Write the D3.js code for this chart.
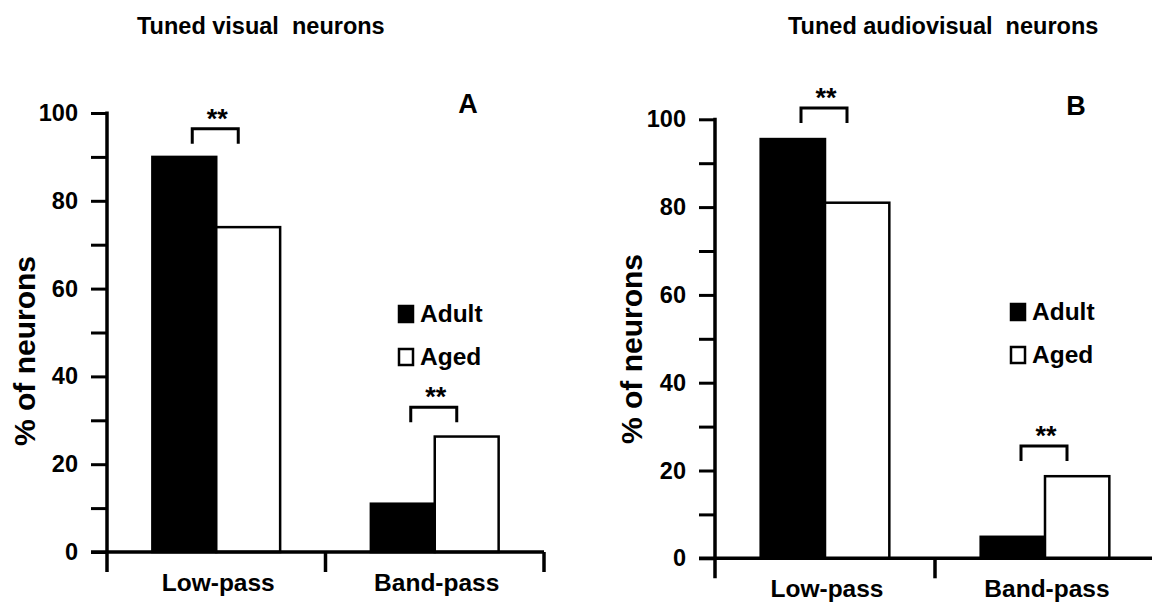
<!DOCTYPE html>
<html>
<head>
<meta charset="utf-8">
<script src="https://cdn.jsdelivr.net/npm/d3@7"></script>
<style>
  html, body { margin: 0; padding: 0; background: #fff; }
  svg { display: block; }
  text { font-family: "Liberation Sans", Arial, sans-serif; font-weight: bold; fill: #000; }
</style>
</head>
<body>
<svg id="chart" width="1152" height="604"></svg>
<script>
// Tuning categories and groups
const categories = ["Low-pass", "Band-pass"];
const groups = ["Adult", "Aged"];

// Percent of tuned visual neurons (panel A)
const visualAdult = [90, 11];
const visualAged = [74, 26.3];

// Percent of tuned audiovisual neurons (panel B)
const audiovisualAdult = [95.5, 4.9];
const audiovisualAged = [81, 18.7];

// Height (in %) of the significance bracket over each category
const visualSig = [96.4, 33];
const audiovisualSig = [102.6, 25.6];
const sigLabel = "**";

const yTickValues = [0, 10, 20, 30, 40, 50, 60, 70, 80, 90, 100];
const yLabelEvery = 20;
const yDomain = [0, 100];

const panelTitles = ["Tuned visual  neurons", "Tuned audiovisual  neurons"];
const panelLetters = ["A", "B"];
const yTitle = "% of neurons";

const svg = d3.select("#chart");

function drawPanel(opt) {
  const g = svg.append("g");

  const y = d3.scaleLinear().domain(yDomain).range([opt.bottom, opt.top]);
  const x = d3.scaleBand().domain(categories).range([opt.left, opt.right]).padding(0);
  const sub = d3.scaleBand().domain(groups)
    .range([0, x.bandwidth()]).paddingInner(0).paddingOuter(0.71);

  const rows = categories.map((c, i) => ({ cat: c, values: [opt.adult[i], opt.aged[i]] }));

  // bars
  g.selectAll("g.cat").data(rows).join("g")
    .attr("class", "cat")
    .attr("transform", d => `translate(${x(d.cat)},0)`)
    .selectAll("rect").data(d => d.values.map((v, k) => ({ key: groups[k], v })))
    .join("rect")
      .attr("x", d => sub(d.key))
      .attr("width", sub.bandwidth())
      .attr("y", d => y(d.v))
      .attr("height", d => y(0) - y(d.v))
      .attr("fill", d => d.key === "Adult" ? "#000" : "#fff")
      .attr("stroke", "#000")
      .attr("stroke-width", 2.5);

  // y axis ticks and labels
  const yAxis = d3.axisLeft(y)
    .tickValues(yTickValues)
    .tickSize(16)
    .tickPadding(13)
    .tickFormat(d => d % yLabelEvery === 0 ? d : "");
  const ya = g.append("g").attr("transform", `translate(${opt.left},0)`).call(yAxis);
  ya.select(".domain").remove();
  ya.selectAll(".tick line").attr("stroke", "#000").attr("stroke-width", 3);
  ya.selectAll(".tick text")
    .attr("font-size", 23.5)
    .attr("font-family", "Liberation Sans, Arial, sans-serif")
    .attr("font-weight", "bold")
    .attr("fill", "#000");

  // y axis line, running down into the first category tick
  g.append("line")
    .attr("x1", opt.left).attr("x2", opt.left)
    .attr("y1", y(100) - 1.5).attr("y2", y(0) + 20)
    .attr("stroke", "#000").attr("stroke-width", 3.5);

  // x axis line and category boundary ticks
  g.append("line")
    .attr("x1", opt.left - 16).attr("x2", opt.right)
    .attr("y1", y(0)).attr("y2", y(0))
    .attr("stroke", "#000").attr("stroke-width", 3.5);
  const bounds = categories.map(c => x(c) + x.bandwidth());
  g.selectAll("line.xt").data(bounds).join("line")
    .attr("class", "xt")
    .attr("x1", d => d).attr("x2", d => d)
    .attr("y1", y(0)).attr("y2", y(0) + 20)
    .attr("stroke", "#000").attr("stroke-width", 3.5);

  // category labels
  g.selectAll("text.cat").data(categories).join("text")
    .attr("class", "cat")
    .attr("x", d => x(d) + x.bandwidth() / 2 + 2)
    .attr("y", opt.catBaseline)
    .attr("text-anchor", "middle")
    .attr("font-size", 24.5)
    .text(d => d);

  // significance brackets
  categories.forEach((c, i) => {
    const cx = x(c) + x.bandwidth() / 2;
    const top = y(opt.sig[i]);
    const x0 = cx - 24, x1 = cx + 22;
    g.append("path")
      .attr("d", `M${x0},${top + 15}V${top}H${x1}V${top + 15}`)
      .attr("fill", "none").attr("stroke", "#000").attr("stroke-width", 3);
    g.append("text")
      .attr("x", (x0 + x1) / 2 + 2)
      .attr("y", top - 1)
      .attr("text-anchor", "middle")
      .attr("font-size", 27)
      .text(sigLabel);
  });

  // legend
  const leg = g.append("g").attr("transform", `translate(${opt.legX},${opt.legY})`);
  groups.forEach((k, i) => {
    leg.append("rect")
      .attr("x", 0).attr("y", i * 43)
      .attr("width", 14).attr("height", 16)
      .attr("fill", k === "Adult" ? "#000" : "#fff")
      .attr("stroke", "#000").attr("stroke-width", 2.5);
    leg.append("text")
      .attr("x", 21).attr("y", i * 43 + 16)
      .attr("font-size", 24.5)
      .text(k);
  });

  // titles
  g.append("text")
    .attr("x", opt.titleX).attr("y", 34)
    .attr("font-size", 23.5)
    .style("white-space", "pre")
    .text(opt.title);
  g.append("text")
    .attr("x", opt.letterX).attr("y", opt.letterY)
    .attr("text-anchor", "middle")
    .attr("font-size", 27)
    .text(opt.letter);
  g.append("text")
    .attr("transform", `translate(${opt.yTitleX},${opt.yTitleY}) rotate(-90)`)
    .attr("text-anchor", "middle")
    .attr("font-size", 30)
    .text(yTitle);
}

drawPanel({
  left: 107, right: 544, top: 113, bottom: 552,
  adult: visualAdult, aged: visualAged, sig: visualSig,
  catBaseline: 591, legX: 399, legY: 306,
  title: panelTitles[0], titleX: 137,
  letter: panelLetters[0], letterX: 468, letterY: 113,
  yTitleX: 35, yTitleY: 351
});

drawPanel({
  left: 715, right: 1155, top: 119.3, bottom: 558.3,
  adult: audiovisualAdult, aged: audiovisualAged, sig: audiovisualSig,
  catBaseline: 596.5, legX: 1011, legY: 304,
  title: panelTitles[1], titleX: 788,
  letter: panelLetters[1], letterX: 1076, letterY: 115,
  yTitleX: 642, yTitleY: 349
});
</script>
</body>
</html>
